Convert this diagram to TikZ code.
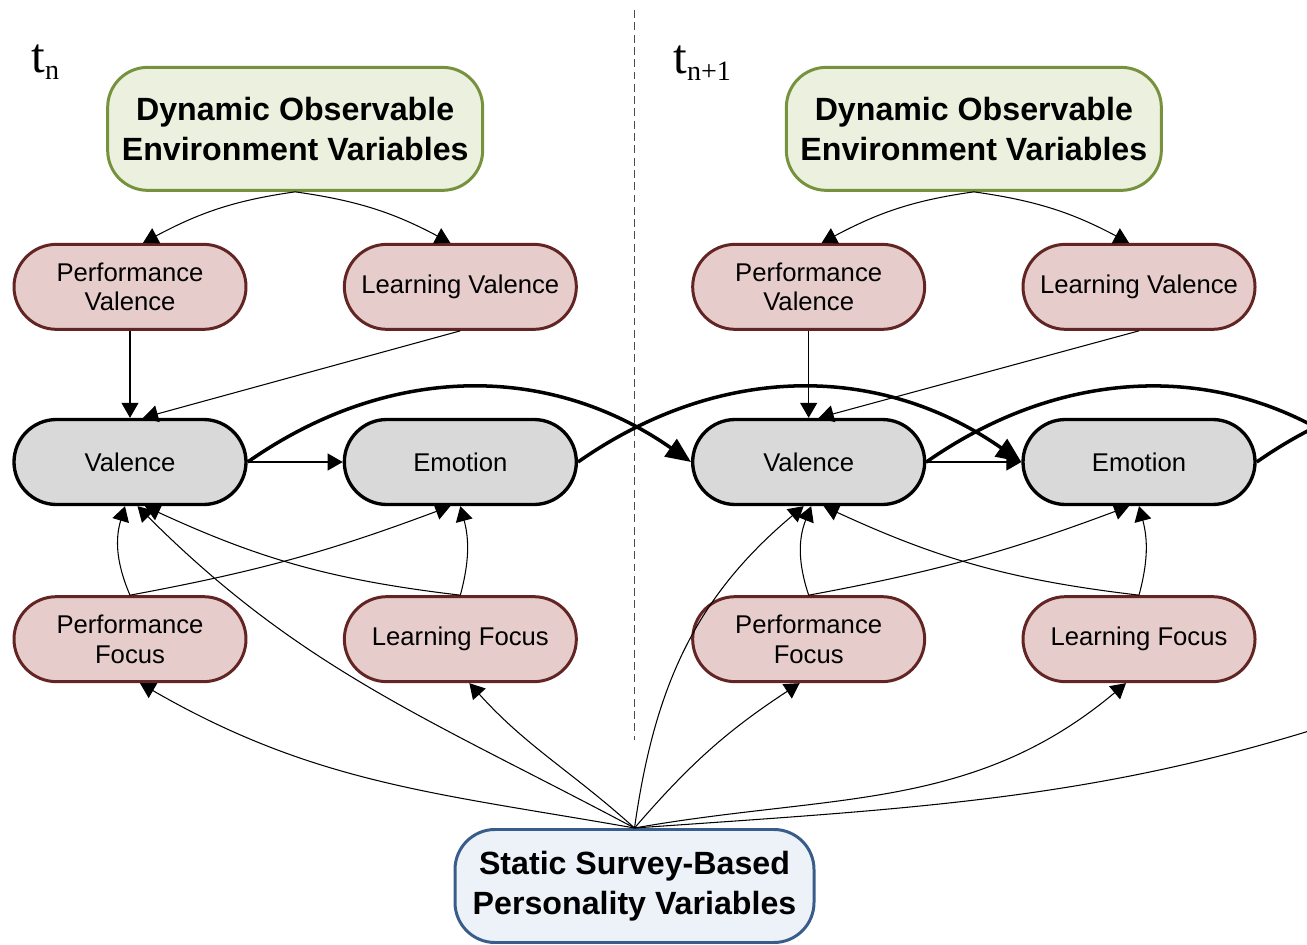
\documentclass[tikz,border=0pt]{standalone}
\usepackage{fontspec}
\setmainfont{Liberation Serif}
\setsansfont{Liberation Sans}
\usepackage{tikz}
\usetikzlibrary{arrows.meta, positioning, calc}
\definecolor{EnvGreen}{RGB}{118,146,60}
\definecolor{EnvFill}{RGB}{235,241,222}
\definecolor{TraitBrown}{RGB}{99,37,35}
\definecolor{TraitFill}{RGB}{230,204,202}
\definecolor{CoreFill}{RGB}{217,217,217}
\definecolor{SurveyBlue}{RGB}{56,93,138}
\definecolor{SurveyFill}{RGB}{237,241,248}

\begin{document}
\begin{tikzpicture}[
  env/.style={draw=EnvGreen, fill=EnvFill, line width=1.7pt, rounded corners=0.8cm,
              minimum width=7.5cm, minimum height=2.46cm, align=center,
              font=\fontsize{18.3}{22.8}\selectfont\sffamily\bfseries},
  trait/.style={draw=TraitBrown, fill=TraitFill, line width=1.7pt, rounded corners=0.85cm,
                minimum width=4.64cm, minimum height=1.7cm, align=center,
                font=\fontsize{14.6}{17}\selectfont\sffamily},
  core/.style={draw=black, fill=CoreFill, line width=1.9pt, rounded corners=0.85cm,
               minimum width=4.64cm, minimum height=1.7cm, align=center,
               font=\fontsize{14.6}{17}\selectfont\sffamily},
  survey/.style={draw=SurveyBlue, fill=SurveyFill, line width=1.7pt, rounded corners=0.8cm,
                 minimum width=7.18cm, minimum height=2.26cm, align=center,
                 font=\fontsize{18.3}{22.8}\selectfont\sffamily\bfseries},
  tlabel/.style={anchor=base west, inner sep=0pt, font=\fontsize{28}{30}\selectfont\rmfamily},
  arr/.style={-{Triangle[length=0.3cm, width=0.34cm]}, line width=0.6pt},
  tarr/.style={-{Triangle[length=0.5cm, width=0.42cm]}, line width=2pt},
  sepline/.style={dashed, dash pattern=on 4.5pt off 2.5pt, line width=0.6pt, black!70},
]
\useasboundingbox (0,0) rectangle (26.14,-18.9);
\clip (0,0) rectangle (26.14,-18.9);

\node[core] (val1) at (2.6,-9.24) {Valence};
\node[core, right=1.9cm of val1] (emo1) {Emotion};
\node[trait, above=1.74cm of val1] (pv1) {Performance\\Valence};
\node[trait, above=1.74cm of emo1] (lv1) {Learning Valence};
\node[trait, below=1.78cm of val1] (pf1) {Performance\\Focus};
\node[trait, below=1.78cm of emo1] (lf1) {Learning Focus};
\path (pv1.north) -- (lv1.north) coordinate[midway] (top1);
\node[env, above=1.02cm of top1] (dyn1) {Dynamic Observable\\Environment Variables};

\node[core, right=2.26cm of emo1] (val2) {Valence};
\node[core, right=1.9cm of val2] (emo2) {Emotion};
\node[trait, above=1.74cm of val2] (pv2) {Performance\\Valence};
\node[trait, above=1.74cm of emo2] (lv2) {Learning Valence};
\node[trait, below=1.78cm of val2] (pf2) {Performance\\Focus};
\node[trait, below=1.78cm of emo2] (lf2) {Learning Focus};
\path (pv2.north) -- (lv2.north) coordinate[midway] (top2);
\node[env, above=1.02cm of top2] (dyn2) {Dynamic Observable\\Environment Variables};

\path (emo1.east) -- (val2.west) coordinate[midway] (gap1);
\node[survey, below=7.32cm of gap1] (survey) {Static Survey-Based\\Personality Variables};
\draw[sepline] ([yshift=9.04cm]gap1) -- ([yshift=-5.56cm]gap1);

\node[tlabel] (tn) at (0.62,-1.44) {t\raisebox{-4pt}{\fontsize{16}{18}\selectfont n}};
\node[tlabel] (tn1) at (13.46,-1.46) {t\raisebox{-4pt}{\fontsize{16}{18}\selectfont n+1}};

\coordinate (val3) at ([xshift=13.56cm]val2.west);
\coordinate (emo3) at ([xshift=13.56cm]emo2.west);
\coordinate (next) at (28.6,-13.8);

\draw[arr] (dyn1.south) to[out=188, in=28] ([xshift=0.26cm]pv1.north);
\draw[arr] (dyn1.south) to[out=-8, in=152] ([xshift=-0.2cm]lv1.north);
\draw[arr] (pv1.south) -- (val1.north);
\draw[arr] (lv1.south) -- ([xshift=0.26cm]val1.north);
\draw[arr] (val1.east) -- (emo1.west);
\draw[arr] (pf1.north) to[bend left=20] ([xshift=-0.1cm]val1.south);
\draw[arr] (pf1.north) to[bend right=5] ([xshift=-0.2cm]emo1.south);
\draw[arr] (lf1.north) to[bend right=15] (emo1.south);
\draw[arr] (lf1.north) to[bend left=9] ([xshift=0.3cm]val1.south);

\draw[arr] (dyn2.south) to[out=188, in=28] ([xshift=0.26cm]pv2.north);
\draw[arr] (dyn2.south) to[out=-8, in=152] ([xshift=-0.2cm]lv2.north);
\draw[arr] (pv2.south) -- (val2.north);
\draw[arr] (lv2.south) -- ([xshift=0.2cm]val2.north);
\draw[arr] (val2.east) -- (emo2.west);
\draw[arr] (pf2.north) to[bend left=20] ([xshift=0.05cm]val2.south);
\draw[arr] (pf2.north) to[bend right=5] ([xshift=-0.2cm]emo2.south);
\draw[arr] (lf2.north) to[bend right=15] (emo2.south);
\draw[arr] (lf2.north) to[bend left=9] ([xshift=0.3cm]val2.south);

\draw[tarr] (val1.east) to[out=35, in=145] (val2.west);
\draw[tarr] (emo1.east) to[out=35, in=145] (emo2.west);
\draw[tarr] (val2.east) to[out=35, in=145] (val3);
\draw[tarr] (emo2.east) to[out=35, in=145] (emo3);

\draw[arr] (survey.north) to[out=152, in=-45] ([xshift=0.15cm]val1.south);
\draw[arr] (survey.north) to[out=170, in=-30] ([xshift=0.2cm]pf1.south);
\draw[arr] (survey.north) to[out=138, in=-48] ([xshift=0.18cm]lf1.south);
\draw[arr] (survey.north) to[out=82, in=-140] ([xshift=-0.1cm]val2.south);
\draw[arr] (survey.north) to[bend left=8] ([xshift=-0.18cm]pf2.south);
\draw[arr] (survey.north) to[out=10, in=-140] ([xshift=-0.26cm]lf2.south);
\draw[arr] (survey.north) to[out=4, in=-160] (next);
\end{tikzpicture}
\end{document}
